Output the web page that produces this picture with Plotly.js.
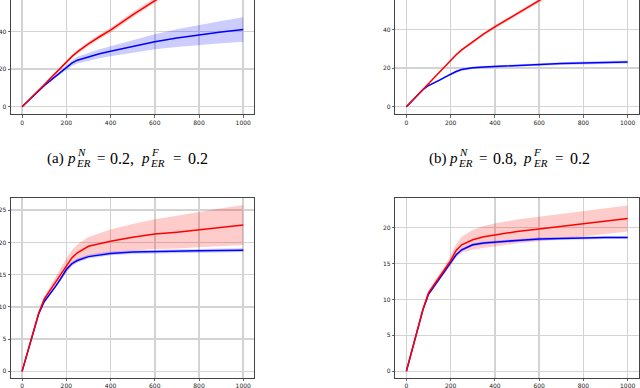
<!DOCTYPE html>
<html>
<head>
<meta charset="utf-8">
<script src="https://cdn.plot.ly/plotly-3.0.1.min.js"></script>
<style>html,body{margin:0;padding:0;background:#fff;}#chart{width:640px;height:388px;}</style>
</head>
<body>
<div id="chart"></div>
<script>
// ---- data ----
const steps = [0,25,50,75,100,125,150,175,200,225,250,300,350,400,500,600,700,800,900,1000];

const aRedMean  = [0,2.8,5.8,8.8,11.7,14.7,17.8,20.9,24.0,26.7,29.2,33.5,37.3,40.8,49.0,57.0,64.0,70.0,76.0,81.0];
const aRedStd   = [0,0.1,0.2,0.3,0.4,0.5,0.6,0.7,0.8,0.9,1.0,1.1,1.2,1.3,1.45,1.6,1.7,1.8,1.9,2.0];
const aBlueMean = [0,2.8,5.7,8.6,11.2,13.6,16.0,18.5,21.0,23.2,24.8,26.6,28.2,29.6,32.2,34.6,36.6,38.3,39.8,41.2];
const aBlueStd  = [0,0.05,0.1,0.15,0.25,0.4,0.6,0.9,1.2,1.5,1.8,2.1,2.4,2.7,3.4,4.0,4.7,5.3,5.9,6.5];

const bRedMean  = [0,3.0,6.0,9.0,12.0,14.9,18.2,21.2,24.2,27.0,29.5,33.8,37.8,41.5,48.5,55.5,62.0,68.0,74.0,79.0];
const bRedStd   = [0,0.1,0.2,0.3,0.35,0.4,0.45,0.5,0.55,0.6,0.65,0.7,0.8,0.9,1.0,1.1,1.2,1.3,1.4,1.5];
const bBlueMean = [0,3.0,6.0,8.8,11.0,12.3,13.8,15.4,17.0,18.3,19.3,20.2,20.6,20.9,21.4,22.0,22.4,22.7,23.0,23.2];
const bBlueStd  = [0,0.1,0.2,0.3,0.4,0.45,0.5,0.55,0.6,0.6,0.6,0.6,0.6,0.6,0.65,0.7,0.7,0.75,0.8,0.8];

const cRedMean  = [0,3.1,6.2,9.0,11.2,12.5,13.8,15.1,16.4,17.6,18.4,19.4,19.8,20.2,20.8,21.3,21.6,22.0,22.35,22.7];
const cRedStd   = [0,0.1,0.2,0.3,0.4,0.6,0.8,1.0,1.1,1.2,1.3,1.45,1.6,1.8,2.05,2.3,2.55,2.75,2.95,3.1];
const cBlueMean = [0,3.1,6.1,8.9,10.8,11.9,13.1,14.4,15.8,16.7,17.2,17.8,18.1,18.3,18.5,18.6,18.65,18.7,18.75,18.8];
const cBlueStd  = [0,0.05,0.1,0.1,0.15,0.2,0.2,0.25,0.3,0.3,0.3,0.3,0.3,0.3,0.3,0.3,0.3,0.3,0.3,0.3];

const dRedMean  = [0,3.0,5.9,8.6,10.9,12.0,13.1,14.2,15.4,16.8,17.6,18.3,18.7,18.95,19.45,19.8,20.15,20.55,20.9,21.25];
const dRedStd   = [0,0.1,0.2,0.3,0.35,0.4,0.5,0.6,0.7,0.9,1.1,1.4,1.5,1.6,1.65,1.7,1.75,1.8,1.8,1.8];
const dBlueMean = [0,3.0,5.9,8.6,10.7,11.8,12.9,14.0,15.2,16.2,16.9,17.6,17.85,18.0,18.2,18.4,18.5,18.55,18.6,18.6];
const dBlueStd  = [0,0.05,0.1,0.1,0.1,0.15,0.15,0.15,0.2,0.2,0.2,0.2,0.2,0.2,0.2,0.2,0.2,0.2,0.2,0.2];

const xTicks = [0,200,400,600,800,1000];
const yTicksTop = [0,20,40,60];
const yTicksBottom = [0,5,10,15,20,25];

const captionA = ["(a)", "N", "ER", "0.2", "F", "ER", "0.2"];
const captionB = ["(b)", "N", "ER", "0.8", "F", "ER", "0.2"];

// ---- build ----
const W = 640, H = 388;
const RED = '#ff0000', BLUE = '#0000ff';
const RED_FILL = 'rgba(255,0,0,0.2)', BLUE_FILL = 'rgba(0,0,255,0.2)';

function band(mean, std, xa, ya, fill) {
  const up = mean.map((m,i)=>m+std[i]);
  const lo = mean.map((m,i)=>m-std[i]);
  return [
    {x: steps, y: up, xaxis: xa, yaxis: ya, mode: 'lines', line: {width: 0}, hoverinfo: 'skip', showlegend: false},
    {x: steps, y: lo, xaxis: xa, yaxis: ya, mode: 'lines', line: {width: 0}, fill: 'tonexty', fillcolor: fill, hoverinfo: 'skip', showlegend: false}
  ];
}
function line(mean, xa, ya, color) {
  return {x: steps, y: mean, xaxis: xa, yaxis: ya, mode: 'lines', line: {color: color, width: 1.5}, showlegend: false};
}

const panels = [
  {xa: 'x',  ya: 'y',  r: aRedMean, rs: aRedStd, b: aBlueMean, bs: aBlueStd},
  {xa: 'x2', ya: 'y2', r: bRedMean, rs: bRedStd, b: bBlueMean, bs: bBlueStd},
  {xa: 'x3', ya: 'y3', r: cRedMean, rs: cRedStd, b: cBlueMean, bs: cBlueStd},
  {xa: 'x4', ya: 'y4', r: dRedMean, rs: dRedStd, b: dBlueMean, bs: dBlueStd}
];
let traces = [];
panels.forEach(p => {
  traces = traces.concat(band(p.r, p.rs, p.xa, p.ya, RED_FILL));
  traces = traces.concat(band(p.b, p.bs, p.xa, p.ya, BLUE_FILL));
  traces.push(line(p.b, p.xa, p.ya, BLUE));
  traces.push(line(p.r, p.xa, p.ya, RED));
});

const tickFont = {family: 'DejaVu Sans', size: 6, color: '#222'};
function xax(domain, anchor, mirror, tl) {
  return {domain: domain, anchor: anchor, range: [-50, 1050], tickvals: xTicks, ticktext: xTicks.map(String),
    showgrid: true, gridcolor: '#d3d3d3', gridwidth: 1.5, zeroline: false,
    showline: true, linecolor: '#444', linewidth: 1, mirror: mirror,
    ticks: 'outside', ticklen: tl, tickwidth: 0.8, tickcolor: '#444', tickfont: tickFont};
}
function yax(domain, anchor, range, ticks) {
  return {domain: domain, anchor: anchor, range: range, tickvals: ticks, ticktext: ticks.map(String),
    showgrid: true, gridcolor: '#d3d3d3', gridwidth: 1.5, zeroline: false,
    showline: true, linecolor: '#444', linewidth: 1, mirror: true,
    ticks: 'outside', ticklen: 2.5, tickwidth: 0.8, tickcolor: '#444', tickfont: tickFont};
}
const leftX = [11/W, 254.3/W], rightX = [395.3/W, 638.7/W];
const topY = [1 - 114.3/H, 1], botY = [1 - 378/H, 1 - 198.3/H];

// captions as positioned text pieces
function capAnn(parts, dx) {
  const serif = 'Liberation Serif';
  const mk = (text, xpx, ycpx, size, italic) => ({
    xref: 'paper', yref: 'paper', x: (xpx + dx)/W, y: 1 - ycpx/H, xanchor: 'left', yanchor: 'middle',
    text: italic ? '<i>' + text + '</i>' : text, showarrow: false, borderpad: 0,
    font: {family: serif, size: size, color: '#000'}
  });
  const yMain = 158.3, ySup = 151.6, ySub = 162.6;
  return [
    mk(parts[0], 46, yMain, 15, false),
    mk('p', 66, yMain, 15, true),
    mk(parts[1], 76, ySup, 11, true),
    mk(parts[2], 75, ySub, 11, true),
    mk('=', 95.7, yMain, 15, false),
    mk(parts[3] + ',', 109.3, yMain, 16, false),
    mk('p', 140, yMain, 15, true),
    mk(parts[4], 150, ySup, 11, true),
    mk(parts[5], 149.3, ySub, 11, true),
    mk('=', 171.7, yMain, 15, false),
    mk(parts[6], 186.7, yMain, 16, false)
  ];
}

const layout = {
  width: W, height: H, margin: {l: 0, r: 0, t: 0, b: 0},
  paper_bgcolor: '#fff', plot_bgcolor: '#fff', showlegend: false,
  font: {family: 'DejaVu Sans'},
  xaxis:  xax(leftX,  'y',  false, 2.5),
  yaxis:  yax(topY,   'x',  [-4.05, 56.9], yTicksTop),
  xaxis2: xax(rightX, 'y2', false, 2.5),
  yaxis2: yax(topY,   'x2', [-3.95, 55.43], yTicksTop),
  xaxis3: xax(leftX,  'y3', true, 1.5),
  yaxis3: yax(botY,   'x3', [-1.03, 26.85], yTicksBottom),
  xaxis4: xax(rightX, 'y4', true, 1.5),
  yaxis4: yax(botY,   'x4', [-0.93, 24.06], yTicksBottom),
  annotations: capAnn(captionA, 0).concat(capAnn(captionB, 382.3))
};

Plotly.newPlot('chart', traces, layout, {staticPlot: true, displayModeBar: false});
</script>
</body>
</html>
